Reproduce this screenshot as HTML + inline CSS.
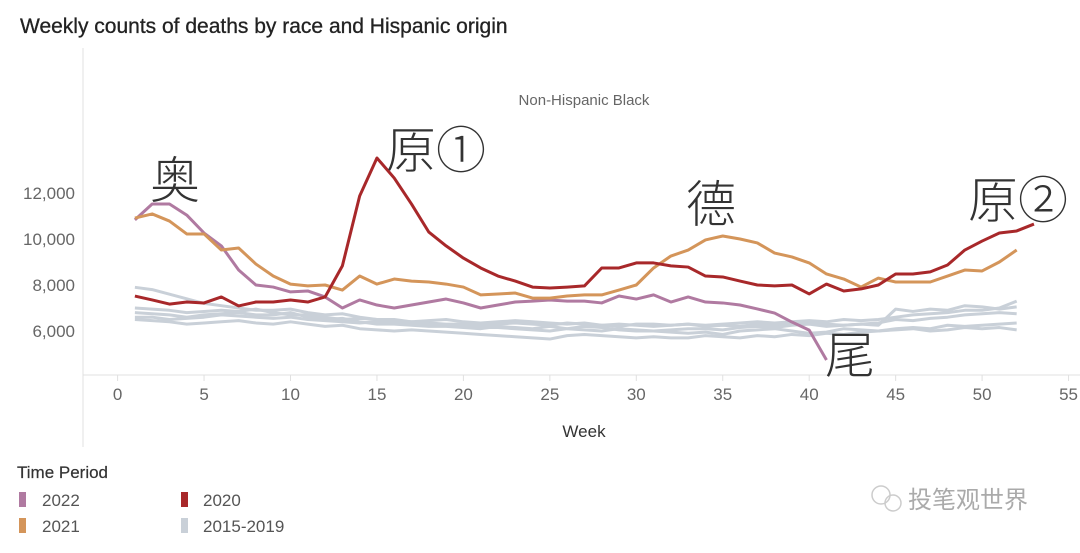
<!DOCTYPE html>
<html><head><meta charset="utf-8"><style>
body{margin:0;background:#fff;width:1080px;height:548px;overflow:hidden;font-family:"Liberation Sans","Noto Sans CJK SC",sans-serif}
svg text{font-family:"Liberation Sans","Noto Sans CJK SC",sans-serif}
</style></head><body>
<svg id="chart" width="1080" height="548">
<text x="20" y="33" font-size="21" fill="#222" stroke="#222" stroke-width="0.3">Weekly counts of deaths by race and Hispanic origin</text>
<line x1="83" y1="48" x2="83" y2="447" stroke="#e0e0e0"/>
<line x1="83" y1="375" x2="1080" y2="375" stroke="#e0e0e0"/>
<text x="584" y="105" font-size="15" fill="#666" text-anchor="middle">Non-Hispanic Black</text>
<g id="yticks"></g><g id="xticks"></g><g id="lines"></g>
<text x="584" y="437" font-size="17" fill="#333" text-anchor="middle">Week</text>
<g font-size="50" fill="#333" font-family="Noto Sans CJK SC" font-weight="300">
<text x="150" y="198">奥</text>
<text x="386" y="168">原①</text>
<text x="686" y="222">德</text>
<text x="968" y="218">原②</text>
<text x="825" y="373">尾</text>
</g>
<text x="17" y="478" font-size="17" fill="#333" stroke="#333" stroke-width="0.2">Time Period</text>
<g font-size="17" fill="#555">
<rect x="19" y="492" width="7" height="15" fill="#b07aa1"/><text x="42" y="506">2022</text>
<rect x="19" y="518" width="7" height="15" fill="#d4955a"/><text x="42" y="532">2021</text>
<rect x="181" y="492" width="7" height="15" fill="#a8282a"/><text x="203" y="506">2020</text>
<rect x="181" y="518" width="7" height="15" fill="#c9d0d8"/><text x="203" y="532">2015-2019</text>
</g>
<g fill="#bbb">
<circle cx="881" cy="495" r="9" fill="none" stroke="#ccc" stroke-width="1.5"/><circle cx="893" cy="503" r="8" fill="none" stroke="#ccc" stroke-width="1.5"/>
<text x="908" y="508" font-size="24" fill="#aaa">投笔观世界</text>
</g>
</svg>
<script>
const yTicks=[6000,8000,10000,12000];
const xTicks=[0,5,10,15,20,25,30,35,40,45,50,55];
const s2020=[7520,7350,7170,7260,7220,7480,7090,7260,7260,7350,7260,7480,8830,11870,13520,12650,11520,10300,9700,9170,8740,8390,8170,7910,7870,7910,7960,8740,8740,8960,8960,8830,8780,8390,8350,8170,8000,7960,8000,7610,8040,7740,7830,8000,8480,8480,8570,8870,9520,9910,10260,10350,10650];
const s2021=[10910,11090,10780,10220,10220,9520,9610,8910,8390,8040,7960,8000,7780,8390,8040,8260,8170,8130,8040,7910,7570,7610,7650,7430,7430,7520,7570,7570,7780,8000,8740,9260,9520,9960,10130,10000,9830,9390,9220,8960,8480,8260,7910,8300,8130,8130,8130,8390,8650,8610,9000,9520];
const s2022=[10830,11520,11520,11040,10260,9700,8650,8000,7910,7700,7740,7480,7000,7350,7130,7000,7130,7260,7390,7220,7000,7130,7260,7300,7350,7300,7300,7220,7520,7390,7570,7260,7480,7260,7220,7130,6960,6780,6390,6040,4740];
const sA=[7900,7800,7600,7400,7200,7100,7000,6900,6900,6950,6800,6700,6750,6600,6500,6500,6400,6350,6300,6300,6250,6300,6350,6300,6250,6350,6300,6250,6200,6300,6300,6250,6300,6250,6300,6350,6400,6350,6400,6450,6400,6500,6450,6500,6600,6700,6750,6800,6900,6900,7000,7300];
const sB=[7000,6950,6900,6800,6850,6900,6850,6950,6800,6700,6700,6600,6500,6550,6500,6450,6400,6450,6500,6400,6350,6400,6450,6400,6350,6300,6350,6250,6300,6250,6200,6250,6300,6200,6250,6200,6300,6250,6300,6400,6300,6250,6300,6250,6950,6850,6950,6900,7100,7050,6950,7050];
const sC=[6800,6750,6700,6600,6700,6750,6800,6700,6700,6800,6600,6500,6550,6400,6300,6300,6250,6200,6200,6150,6100,6200,6150,6100,6200,6100,6050,6000,6100,6050,6000,6050,6100,6100,6050,6150,6200,6150,6250,6300,6200,6250,6300,6350,6500,6450,6550,6600,6700,6750,6800,6750];
const sD=[6600,6600,6500,6550,6600,6700,6650,6600,6550,6600,6500,6450,6400,6350,6400,6350,6300,6300,6250,6200,6150,6150,6100,6050,6000,6100,6200,6150,6050,6000,6000,5950,5900,5950,5850,6000,6050,6100,6000,5900,5950,6100,6050,6000,6100,6150,6100,6250,6200,6250,6300,6350];
const sE=[6500,6450,6400,6300,6350,6400,6450,6350,6300,6400,6300,6200,6250,6100,6050,6000,6050,6000,5950,5900,5850,5800,5750,5700,5650,5800,5850,5800,5750,5700,5750,5700,5700,5800,5750,5700,5800,5750,5850,5800,5900,5850,5950,6000,6050,6100,6000,6050,6150,6100,6150,6050];
const x=w=>117.6+17.29*w;
const y=v=>331-(v-6000)*0.023;
const NS="http://www.w3.org/2000/svg";
function mk(t,a,p){const e=document.createElementNS(NS,t);for(const k in a)e.setAttribute(k,a[k]);document.getElementById(p).appendChild(e);return e;}
yTicks.forEach(v=>{const t=mk('text',{x:75,y:y(v)+6,'font-size':17,fill:'#666','text-anchor':'end'},'yticks');t.textContent=v.toLocaleString('en-US');

});
xTicks.forEach(w=>{const l=mk('line',{x1:x(w),x2:x(w),y1:375,y2:381,stroke:'#e0e0e0'},'xticks');


const t=mk('text',{x:x(w),y:400,'font-size':17,fill:'#666','text-anchor':'middle'},'xticks');t.textContent=w;

});
function line(d,c,n){const p=mk('polyline',{points:d.map((v,i)=>x(i+1)+','+y(v)).join(' '),fill:'none',stroke:c,'stroke-width':3,'stroke-linejoin':'round'},'lines');

}
[sA,sB,sC,sD,sE].forEach((d,i)=>line(d,'#c9d0d8','line-2015-2019-'+(i+1)));
line(s2022,'#b07aa1','line-2022');
line(s2021,'#d4955a','line-2021');
line(s2020,'#a8282a','line-2020');
</script>
</body></html>
